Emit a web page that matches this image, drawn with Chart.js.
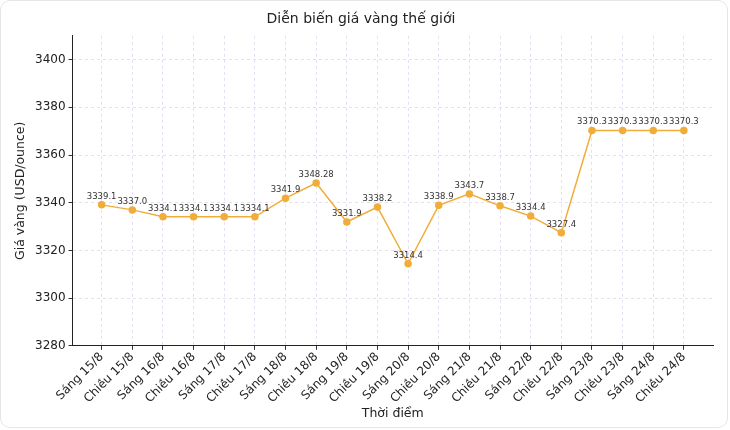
<!DOCTYPE html>
<html><head><meta charset="utf-8">
<script src="https://cdn.jsdelivr.net/npm/chart.js@4/dist/chart.umd.min.js"></script>
<style>
body{margin:0;background:#fff;}
#wrap{width:728px;height:428px;border:1px solid #e6e6e6;border-radius:10px;box-sizing:border-box;}
</style></head>
<body><div id="wrap"><canvas id="c" width="726" height="426"></canvas></div>
<script>
let labels=["Sáng 15/8","Chiều 15/8","Sáng 16/8","Chiều 16/8","Sáng 17/8","Chiều 17/8","Sáng 18/8","Chiều 18/8","Sáng 19/8","Chiều 19/8","Sáng 20/8","Chiều 20/8","Sáng 21/8","Chiều 21/8","Sáng 22/8","Chiều 22/8","Sáng 23/8","Chiều 23/8","Sáng 24/8","Chiều 24/8"];
let prices=[3339.1,3337.0,3334.1,3334.1,3334.1,3334.1,3341.9,3348.28,3331.9,3338.2,3314.4,3338.9,3343.7,3338.7,3334.4,3327.4,3370.3,3370.3,3370.3,3370.3];
let priceText=["3339.1","3337.0","3334.1","3334.1","3334.1","3334.1","3341.9","3348.28","3331.9","3338.2","3314.4","3338.9","3343.7","3338.7","3334.4","3327.4","3370.3","3370.3","3370.3","3370.3"];
let yTicks=[3280,3300,3320,3340,3360,3380,3400];

let font="DejaVu Sans";
let valueLabels={
id:"valueLabels",
afterDatasetsDraw(chart){
let ctx=chart.ctx;
let meta=chart.getDatasetMeta(0);
ctx.save();
ctx.font="8.5px "+font;
ctx.fillStyle="#333";
ctx.textAlign="center";
ctx.textBaseline="bottom";
meta.data.forEach(function(p,i){ctx.fillText(priceText[i],p.x,p.y-4);});
ctx.restore();
}
};

new Chart(document.getElementById("c"),{
type:"line",
data:{datasets:[{
data:prices.map(function(v,i){return {x:i,y:v};}),
borderColor:"#f0ad3a",backgroundColor:"#f0ad3a",
borderWidth:1.5,pointRadius:3,tension:0
}]},
options:{
responsive:false,animation:false,
layout:{padding:{left:8,right:14,top:4,bottom:2}},
plugins:{legend:{display:false},tooltip:{enabled:false},
title:{display:true,text:"Diễn biến giá vàng thế giới",color:"#222",font:{family:font,size:14,weight:"normal"},padding:{top:6,bottom:8}}},
scales:{
x:{type:"linear",min:-0.95,max:19.95,
afterBuildTicks(s){s.ticks=labels.map(function(l,i){return {value:i};});},
ticks:{autoSkip:false,maxRotation:45,minRotation:45,color:"#222",padding:0,font:{family:font,size:12},callback:function(v){return labels[v];}},
grid:{color:"#e6dff0",drawTicks:true,tickColor:"#333",tickLength:4},
border:{color:"#222",dash:[3,3]},
title:{display:true,text:"Thời điểm",color:"#222",font:{family:font,size:12.5},padding:{top:0}}},
y:{min:3280,max:3410,
afterBuildTicks(s){s.ticks=yTicks.map(function(v){return {value:v};});},
ticks:{color:"#222",font:{family:font,size:12},callback:function(v){return String(v);}},
grid:{color:"#e6dff0",tickColor:"#333",tickLength:4},
border:{color:"#222",dash:[3,3]},
title:{display:true,text:"Giá vàng (USD/ounce)",color:"#222",font:{family:font,size:12.5}}}
}
},
plugins:[valueLabels]
});
</script></body></html>
